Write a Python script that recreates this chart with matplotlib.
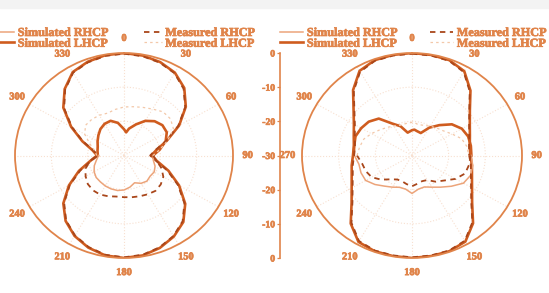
import numpy as np
import matplotlib.pyplot as plt
import matplotlib.patheffects as pe
from matplotlib.patches import Rectangle

plt.rcParams['font.family'] = ['Liberation Serif', 'DejaVu Serif']
plt.rcParams['font.weight'] = 'bold'

# angles in degrees, clockwise from top
ang_full = list(range(0, 361, 10))
ang_up = [-90, -80, -70, -60, -50, -40, -30, -20, -10, 0, 5, 10, 20, 30, 40, 50, 60, 70, 80, 90]
ang_lo = list(range(90, 271, 10))

# left pattern (dB)
left_big_sim = [0, -0.3, -0.9, -2.0, -4.2, -7.8, -12.5, -17.5, -21.0, -22.5, -20.8, -17.0, -12.5,
                -8.0, -4.6, -2.6, -1.2, -0.3, 0, -0.3, -1.3, -2.8, -5.0, -8.2, -12.5, -16.8,
                -20.5, -22.6, -21.2, -17.8, -13.2, -8.2, -4.6, -1.8, -0.8, -0.2, 0]
left_big_meas = [-0.2, -0.5, -1.1, -2.2, -4.5, -8.0, -12.8, -17.8, -21.3, -22.8, -21.0, -17.4, -12.9,
                 -8.3, -4.9, -2.8, -1.4, -0.5, -0.2, -0.5, -1.5, -3.0, -5.2, -8.5, -12.8, -17.2,
                 -20.8, -22.8, -21.5, -18.0, -13.5, -8.5, -4.8, -2.0, -1.0, -0.4, -0.2]
left_up_sim = [-22.8, -22.6, -22.3, -21.6, -20.8, -19.9, -19.3, -19.2, -20.3, -22.3, -23.2, -22.0,
               -20.3, -18.3, -16.9, -16.2, -16.4, -17.8, -20.0, -22.0]
left_up_meas = [-22.5, -21.8, -20.0, -17.5, -16.2, -16.2, -16.4, -16.8, -16.3, -15.8, -15.7, -15.5,
                -15.0, -14.3, -13.3, -13.3, -14.3, -17.2, -20.0, -22.0]
left_lo_sim = [-22.0, -21.8, -20.9, -20.4, -20.6, -20.2, -20.6, -21.5, -20.6, -19.9, -19.6, -19.6,
               -19.7, -19.9, -20.0, -20.5, -21.3, -22.3, -23.0]
left_lo_meas = [-22.0, -20.8, -19.0, -17.5, -16.8, -16.5, -16.9, -17.3, -17.6, -17.8, -17.8, -17.3,
                -16.8, -16.7, -17.0, -17.8, -18.7, -20.5, -22.5]

# right pattern (dB)
right_big_sim = [0, -0.1, -0.3, -1.5, -5.2, -9.4, -11.8, -13.2, -14.0, -14.1, -13.4, -12.6, -11.1,
                 -8.6, -4.1, -0.9, -0.2, -0.1, 0, -0.1, -0.2, -0.8, -4.0, -8.5, -11.0, -12.5,
                 -13.3, -13.9, -13.9, -13.1, -11.7, -9.2, -5.0, -1.4, -0.3, -0.1, 0]
right_big_meas = [-0.2, -0.3, -0.5, -1.8, -5.5, -9.6, -12.0, -13.4, -14.2, -14.4, -13.7, -12.9, -11.4,
                  -8.9, -4.4, -1.2, -0.4, -0.3, -0.2, -0.3, -0.4, -1.1, -4.3, -8.8, -11.3, -12.8,
                  -13.6, -14.2, -14.2, -13.4, -12.0, -9.5, -5.3, -1.7, -0.5, -0.3, -0.2]
right_up_sim = [-14.1, -14.0, -13.6, -14.0, -14.6, -15.9, -19.2, -20.9, -23.2, -22.6, -22.4, -22.7,
                -23.0, -20.6, -18.4, -15.8, -14.3, -13.7, -13.7, -13.8]
right_up_meas = [-15.0, -15.5, -16.0, -17.2, -18.4, -19.3, -20.0, -20.6, -20.5, -20.3, -20.4, -20.8,
                 -20.6, -20.1, -19.5, -18.8, -17.4, -15.6, -14.8, -14.5]
right_lo_sim = [-13.8, -13.2, -13.0, -13.8, -16.0, -17.9, -19.3, -20.2, -20.0, -18.9, -20.0, -20.1,
                -19.3, -18.3, -16.8, -15.4, -15.2, -15.3, -14.3]
right_lo_meas = [-14.0, -14.2, -14.6, -16.3, -18.6, -20.0, -21.7, -22.0, -21.6, -21.0, -21.5, -22.0,
                 -21.9, -20.9, -19.0, -17.3, -16.6, -16.2, -15.0]

theta_ticks = list(range(0, 360, 30))
radial_ticks = [-30, -20, -10, 0, 10, 20, 30]
radial_labels = ['0', '-10', '-20', '-30', '-20', '-10', '0']

ORANGE = '#e0844a'
DARK = '#cf5c1f'
DASH = '#a9461a'
LIGHT = '#eca47a'
FAINT = '#f3c8a9'

heavy = [pe.withStroke(linewidth=0.5, foreground=ORANGE)]

fig = plt.figure(figsize=(5.49, 2.93), dpi=100)
fig.patches.append(Rectangle((0, 1 - 8 / 293), 1, 8 / 293, transform=fig.transFigure,
                             color='#f3f3f3', zorder=0))


def polar_panel(rect, big_sim, big_meas, up_sim, up_meas, lo_sim, lo_meas, show270):
    ax = fig.add_axes(rect, projection='polar')
    ax.set_aspect('auto')
    ax.set_theta_zero_location('N')
    ax.set_theta_direction(-1)
    ax.set_ylim(-30, 0)
    ax.set_yticks([-20, -10])
    ax.set_yticklabels([])
    ax.tick_params(axis='y', length=0)
    ax.set_xticks(np.deg2rad(theta_ticks))
    labels = [str(t) for t in theta_ticks]
    if not show270:
        labels[9] = ''
    ax.set_xticklabels(labels, fontweight='bold', fontsize=7.5, path_effects=heavy)
    ax.tick_params(axis='x', direction='in', length=4, width=0.9, colors=ORANGE, pad=3.5)
    ax.grid(True, color='#f8e0d0', linestyle=':', linewidth=0.8)
    ax.spines['polar'].set_color(ORANGE)
    ax.spines['polar'].set_linewidth(1.3)

    tf = np.deg2rad(ang_full)
    tu = np.deg2rad(ang_up)
    tl = np.deg2rad(ang_lo)
    l_sl, = ax.plot(tf, big_sim, color=DARK, lw=1.9)
    ax.plot(tu, up_sim, color=DARK, lw=1.9)
    l_sr, = ax.plot(tl, lo_sim, color=LIGHT, lw=1.1)
    l_mr, = ax.plot(tf, big_meas, color=DASH, lw=1.3, dashes=(3, 2.5))
    ax.plot(tl, lo_meas, color=DASH, lw=1.3, dashes=(3, 2.5))
    l_ml, = ax.plot(tu, up_meas, color=FAINT, lw=0.9, dashes=(2, 2.5))
    return ax, [l_sr, l_sl, l_mr, l_ml]


names = ['Simulated RHCP', 'Simulated LHCP', 'Measured RHCP', 'Measured LHCP']

ax1, h1 = polar_panel([15 / 549, 35 / 293, 218 / 549, 205 / 293], left_big_sim, left_big_meas,
                      left_up_sim, left_up_meas, left_lo_sim, left_lo_meas, False)
ax2, h2 = polar_panel([302 / 549, 35 / 293, 220 / 549, 205 / 293], right_big_sim, right_big_meas,
                      right_up_sim, right_up_meas, right_lo_sim, right_lo_meas, True)

for ax, h, x0, hl, cs in [(ax1, h1, -3, 1.4, 2.9), (ax2, h2, 280, 1.9, 2.6)]:
    leg = ax.legend(h, names, ncol=2, loc='upper left', bbox_to_anchor=(x0 / 549, 1 - 27 / 293),
                    bbox_transform=fig.transFigure, frameon=False,
                    prop={'family': 'Liberation Serif', 'weight': 'bold', 'size': 8.8},
                    handlelength=hl, handletextpad=0.3, columnspacing=cs, labelspacing=-0.1,
                    borderpad=0, borderaxespad=0)
    for t in leg.get_texts():
        t.set_color(ORANGE)
        t.set_path_effects(heavy)

# shared radial scale between the panels
axr = fig.add_axes([280 / 549, 35 / 293, 0.0001, 205 / 293])
axr.set_ylim(-30, 30)
axr.set_yticks(radial_ticks)
axr.set_yticklabels(radial_labels, fontweight='bold', fontsize=7, path_effects=heavy)
axr.set_xticks([])
for s in ['top', 'right', 'bottom']:
    axr.spines[s].set_visible(False)
axr.spines['left'].set_color(ORANGE)
axr.spines['left'].set_linewidth(1.2)
axr.tick_params(axis='y', direction='out', length=2.5, width=0.9, colors=ORANGE, pad=1)
axr.patch.set_visible(False)

fig.savefig('out.png', dpi=100)
